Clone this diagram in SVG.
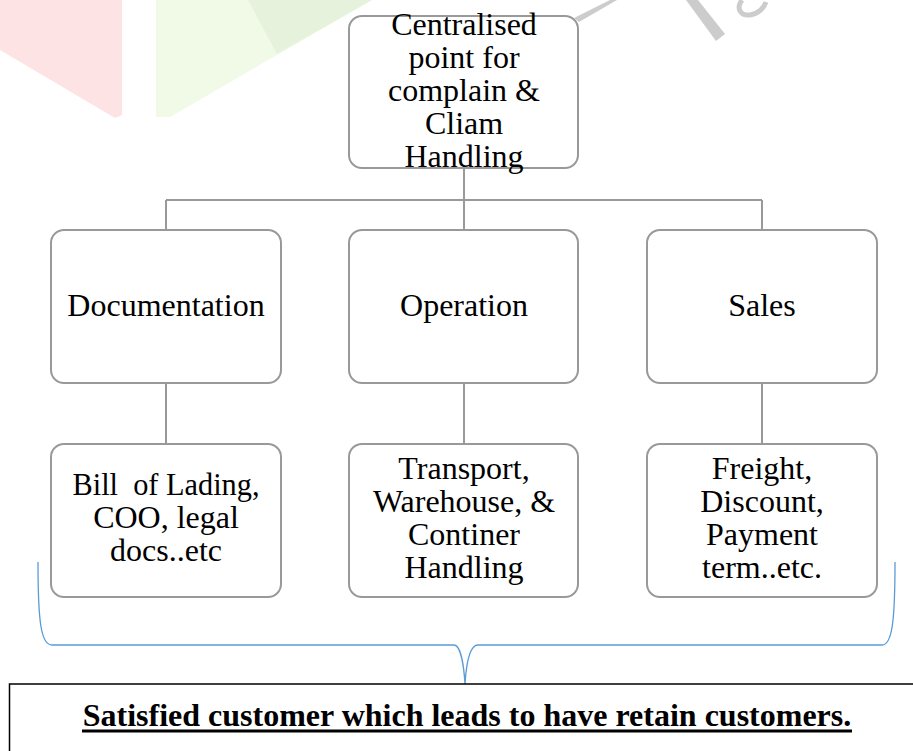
<svg xmlns="http://www.w3.org/2000/svg" width="913" height="751" viewBox="0 0 913 751">
<style>
.box{fill:#fff;stroke:#999;stroke-width:2}
.t{font-family:"Liberation Serif","Times New Roman",serif;font-size:32px;fill:#000;text-anchor:middle}
.conn{stroke:#999;stroke-width:2;fill:none}
.brace{stroke:#5b9bd5;stroke-width:1.3;fill:none}
</style>
<rect width="913" height="751" fill="#fff"/>
<g id="watermark">
<polygon points="0,0 122,0 122,115 115,118 0,50" fill="#fde3e3"/>
<polygon points="156,0 372,0 170,117 156,117" fill="#f0fae6"/>
<polygon points="248,0 372,0 277,54" fill="#e6f2dc"/>
<polygon points="574,18 610,0 617,0 579,22" fill="#cccccc"/>
<polygon points="686,0 698,0 725,34 716,41" fill="#cccccc"/>
<path d="M742,0 C736,8 740,16 750,15 C758,14 764,8 766,2" stroke="#cccccc" stroke-width="5" fill="none"/>
</g>
<g id="connectors">
<path class="conn" d="M464,168 V200 M166,200 H762 M166,200 V230 M464,200 V230 M762,200 V230 M166,383 V444 M464,383 V444 M762,383 V444"/>
<path class="brace" d="M38,562 C38,622 41,645 52,645 L454,645 C461,645 464,668 465,684 C466,668 469,645 478,645 L882,645 C892,645 895,622 895,562"/>
</g>
<g id="n-root">
<rect class="box" x="349" y="16" width="229" height="152" rx="13"/>
<text class="t" x="464" y="35">Centralised</text>
<text class="t" x="464" y="68">point for</text>
<text class="t" x="464" y="101">complain &amp;</text>
<text class="t" x="464" y="134">Cliam</text>
<text class="t" x="464" y="167">Handling</text>
</g>
<g id="n-doc">
<rect class="box" x="51" y="230" width="230" height="153" rx="13"/>
<text class="t" x="166" y="316">Documentation</text>
</g>
<g id="n-op">
<rect class="box" x="349" y="230" width="229" height="153" rx="13"/>
<text class="t" x="464" y="316">Operation</text>
</g>
<g id="n-sales">
<rect class="box" x="647" y="230" width="230" height="153" rx="13"/>
<text class="t" x="762" y="316">Sales</text>
</g>
<g id="n-doc-items">
<rect class="box" x="51" y="444" width="230" height="153" rx="13"/>
<text class="t" x="166" y="495" xml:space="preserve" textLength="187" lengthAdjust="spacingAndGlyphs">Bill  of Lading,</text>
<text class="t" x="166" y="528">COO, legal</text>
<text class="t" x="166" y="561">docs..etc</text>
</g>
<g id="n-op-items">
<rect class="box" x="349" y="444" width="229" height="153" rx="13"/>
<text class="t" x="464" y="479">Transport,</text>
<text class="t" x="464" y="512">Warehouse, &amp;</text>
<text class="t" x="464" y="545">Continer</text>
<text class="t" x="464" y="578">Handling</text>
</g>
<g id="n-sales-items">
<rect class="box" x="647" y="444" width="230" height="153" rx="13"/>
<text class="t" x="762" y="479">Freight,</text>
<text class="t" x="762" y="512">Discount,</text>
<text class="t" x="762" y="545">Payment</text>
<text class="t" x="762" y="578">term..etc.</text>
</g>
<g id="n-result">
<rect x="9.5" y="684" width="920" height="80" fill="#fff" stroke="#000" stroke-width="1.5"/>
<text class="t" x="467" y="726" font-weight="bold">Satisfied customer which leads to have retain customers.</text>
<line x1="82" y1="731" x2="852" y2="731" stroke="#000" stroke-width="3"/>
</g>
</svg>
